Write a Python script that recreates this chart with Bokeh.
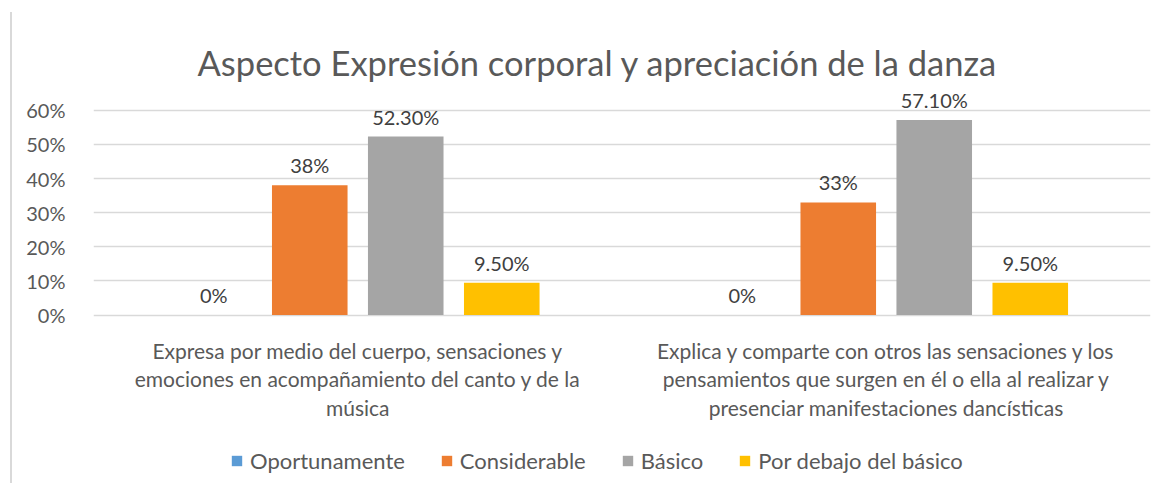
from bokeh.plotting import figure
from bokeh.layouts import column
from bokeh.models import (ColumnDataSource, FactorRange, Range1d, FixedTicker, Legend, LegendItem)
from bokeh.transform import dodge
from bokeh.core.properties import value
from bokeh.embed import file_html
from bokeh.resources import INLINE

# ---------------- data ----------------
categories = [
    "Expresa por medio del cuerpo, sensaciones y\nemociones en acompañamiento del canto y de la\nmúsica",
    "Explica y comparte con otros las sensaciones y los\npensamientos que surgen en él o ella al realizar y\npresenciar manifestaciones dancísticas",
]
series = ["Oportunamente", "Considerable", "Básico", "Por debajo del básico"]
oportunamente = [0.0, 0.0]
considerable = [0.38, 0.33]
basico = [0.523, 0.571]
por_debajo = [0.095, 0.095]
oportunamente_lbl = ["0%", "0%"]
considerable_lbl = ["38%", "33%"]
basico_lbl = ["52.30%", "57.10%"]
por_debajo_lbl = ["9.50%", "9.50%"]
y_ticks = [0.0, 0.1, 0.2, 0.3, 0.4, 0.5, 0.6]
y_tick_labels = ["0%", "10%", "20%", "30%", "40%", "50%", "60%"]
title_text = "Aspecto Expresión corporal y apreciación de la danza"

colors = ["#5B9BD5", "#ED7D31", "#A5A5A5", "#FFC000"]
FONT = "Lato"
TXT = "#595959"

src = ColumnDataSource(data=dict(
    cat=categories,
    s0=oportunamente, s1=considerable, s2=basico, s3=por_debajo,
    l0=oportunamente_lbl, l1=considerable_lbl, l2=basico_lbl, l3=por_debajo_lbl,
))

# ---------------- main chart ----------------
p = figure(width=1158, height=430, output_backend="svg", toolbar_location=None,
           x_range=FactorRange(*categories, range_padding=0),
           y_range=Range1d(-0.01, 0.6665),
           min_border_left=93, min_border_right=8, min_border_top=87, min_border_bottom=112)

p.title.text = title_text
p.title.text_font = FONT
p.title.text_font_size = "34.5px"
p.title.text_font_style = "normal"
p.title.text_color = TXT
p.title.align = "left"
p.title.offset = 104
p.title.standoff = 10

p.outline_line_color = None
p.background_fill_color = "white"
p.border_fill_alpha = 0

offsets = [-0.2725, -0.0908, 0.0908, 0.2725]
bar_w = 0.143
for i, name in enumerate(series):
    p.vbar(x=dodge("cat", offsets[i], range=p.x_range), top="s%d" % i, bottom=0,
           width=bar_w, source=src, fill_color=colors[i], line_color=None)
    p.text(x=dodge("cat", offsets[i], range=p.x_range), y="s%d" % i, text="l%d" % i, source=src,
           text_align="center", text_baseline="bottom", y_offset=-8,
           text_font=value(FONT), text_font_size="20px", text_color="#404040")

p.yaxis.ticker = FixedTicker(ticks=y_ticks)
p.yaxis.major_label_overrides = {t: l for t, l in zip(y_ticks, y_tick_labels)}
p.yaxis.axis_line_color = None
p.yaxis.major_tick_line_color = None
p.yaxis.minor_tick_line_color = None
p.yaxis.major_label_standoff = 22
p.yaxis.major_label_text_font = FONT
p.yaxis.major_label_text_font_size = "20px"
p.yaxis.major_label_text_color = TXT

p.xaxis.axis_line_color = None
p.xaxis.major_tick_line_color = None
p.xaxis.minor_tick_line_color = None
p.xaxis.major_label_standoff = 13
p.xaxis.major_label_text_font = FONT
p.xaxis.major_label_text_font_size = "21px"
p.xaxis.major_label_text_color = TXT
p.xaxis.major_label_text_line_height = 1.15

p.xgrid.grid_line_color = None
p.ygrid.ticker = FixedTicker(ticks=y_ticks)
p.ygrid.grid_line_color = "#D9D9D9"
p.ygrid.grid_line_width = 1.5

# ---------------- legend strip ----------------
lg = figure(width=1158, height=53, output_backend="svg", toolbar_location=None,
            x_range=Range1d(0, 1), y_range=Range1d(0, 1),
            x_axis_type=None, y_axis_type=None, min_border=0)
lg.outline_line_color = None
lg.background_fill_alpha = 0
lg.border_fill_alpha = 0
lg.xgrid.visible = False
lg.ygrid.visible = False
items = []
for i, name in enumerate(series):
    # zero-size bar: only provides the legend swatch
    r = lg.vbar(x=[0.5], top=[0.0], bottom=[0.0], width=0.0, fill_color=colors[i], line_color=None)
    items.append(LegendItem(label=name, renderers=[r]))
legend = Legend(items=items, orientation="horizontal", location=(137, 9),
                glyph_width=13, glyph_height=13, label_standoff=7, spacing=35,
                padding=0, margin=0, border_line_color=None, background_fill_alpha=0,
                label_text_font=FONT, label_text_font_size="22px", label_text_color=TXT)
lg.add_layout(legend, "center")

layout = column(p, lg, spacing=0,
                styles={"background": "linear-gradient(#D9D9D9, #D9D9D9) 10px 12px / 2px 100% no-repeat, white"})

open("out.html", "w").write(file_html(layout, INLINE))
